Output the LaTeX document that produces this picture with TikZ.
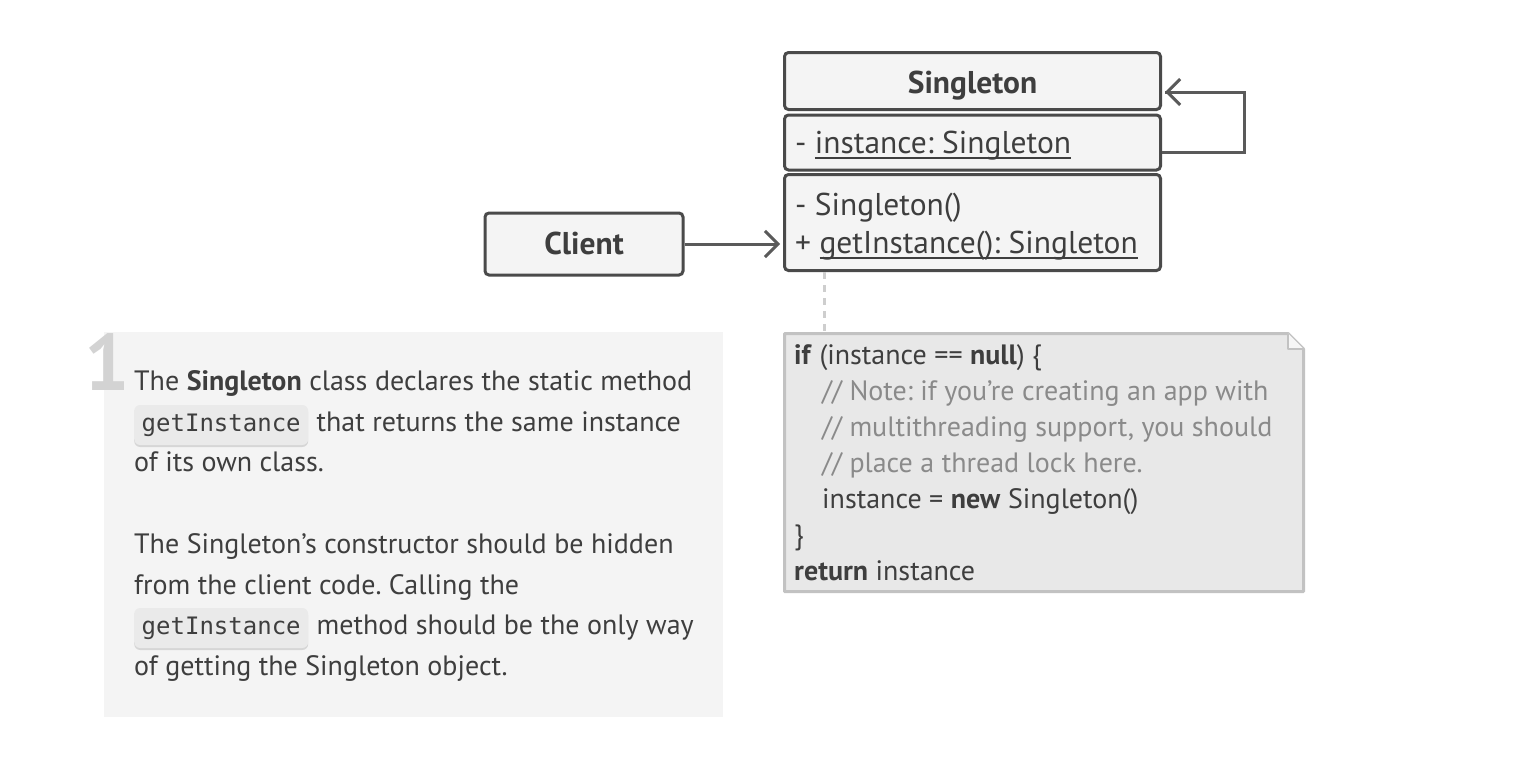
\documentclass[tikz,border=0pt]{standalone}
\usepackage{fontspec}
\setmainfont{PT Sans}
\setmonofont{DejaVu Sans Mono}
\usetikzlibrary{arrows.meta,shadows}
\definecolor{ink}{HTML}{3E3E3E}
\definecolor{umlline}{HTML}{4A4A4A}
\definecolor{umlfill}{HTML}{F4F4F4}
\definecolor{arrline}{HTML}{5A5A5A}
\definecolor{notefill}{HTML}{E8E8E8}
\definecolor{noteline}{HTML}{C2C2C2}
\definecolor{comment}{HTML}{8A8A8A}
\definecolor{panel}{HTML}{F4F4F4}
\definecolor{codefill}{HTML}{EAEAEA}
\definecolor{bignum}{HTML}{D3D3D3}
\newcommand\myul[1]{\setbox0\hbox{#1}\rlap{\rule[-5.5pt]{\wd0}{1.8pt}}\box0}
\frenchspacing
\begin{document}
\begin{tikzpicture}[x=1pt,y=-1pt,
  umlbox/.style={draw=umlline, line width=3pt, fill=umlfill, rounded corners=4pt, inner sep=0pt},
  umltext/.style={anchor=base west, inner sep=0pt, text=ink, font=\fontsize{31.5}{36}\selectfont},
  umlbold/.style={anchor=base, inner sep=0pt, text=ink, font=\fontsize{31.5}{36}\bfseries\selectfont},
  arr/.style={draw=arrline, line width=3pt, -{Straight Barb[length=13pt,width=26pt,line width=3pt]}},
  txt/.style={anchor=base west, inner sep=0pt, text=ink, font=\fontsize{28}{32}\selectfont},
  notetxt/.style={anchor=base west, inner sep=0pt, text=ink, font=\fontsize{28}{32}\selectfont},
  cmt/.style={notetxt, text=comment},
  codebox/.style={anchor=base west, fill=codefill, rounded corners=6pt, inner xsep=0pt, inner ysep=3pt,
     minimum width=174pt, text height=23pt, text depth=11pt, text=ink,
     font=\fontsize{24}{28}\ttfamily,
     drop shadow={shadow xshift=0pt, shadow yshift=-2pt, fill=black!16, opacity=1}},
]
\useasboundingbox[fill=white] (0,0) rectangle (1516,758);

% left explanation panel
\fill[panel] (104,332) rectangle (723,717);
\node[anchor=base west, inner sep=0pt, text=bignum, font=\fontsize{80}{80}\bfseries\selectfont] (num) at (84,390) {1};

\node[txt] (l1) at (134,390) {The \textbf{Singleton} class declares the static method};
\node[codebox] (g1) at (134,431) {getInstance};
\node[txt] (l2) at ([xshift=8pt]g1.base east) {that returns the same instance};
\node[txt] (l3) at (134,471) {of its own class.};
\node[txt] (l5) at (134,553) {The Singleton’s constructor should be hidden};
\node[txt] (l6) at (134,594) {from the client code. Calling the};
\node[codebox] (g2) at (134,634) {getInstance};
\node[txt] (l7) at ([xshift=8pt]g2.base east) {method should be the only way};
\node[txt] (l8) at (134,675) {of getting the Singleton object.};

% Singleton class
\node[umlbox, minimum width=376pt, minimum height=57pt] (sh) at (972.5,81) {};
\node[umlbox, minimum width=376pt, minimum height=55pt] (sa) at (972.5,142.5) {};
\node[umlbox, minimum width=376pt, minimum height=96pt] (sm) at (972.5,222.5) {};
\node[umlbold] (shT) at (972.5,93) {Singleton};
\node[umltext] (saT) at (795,153) {- \myul{instance: Singleton}};
\node[umltext] (smT1) at (795,215) {- Singleton()};
\node[umltext] (smT2) at (795,253) {+ \myul{getInstance(): Singleton}};

% Client
\node[umlbox, minimum width=198pt, minimum height=62pt] (cl) at (584,244) {};
\node[umlbold] (clT) at (584,254) {Client};

% connectors
\coordinate (loopa) at ([yshift=-10pt]sa.east);
\coordinate (loopb) at ([yshift=-11pt]sh.east);
\coordinate (loopc) at (1244,0);
\draw[arr, -] (loopa) -- (loopa -| loopc) |- ([xshift=3pt]loopb);
\draw[arr] (loopc |- loopb) -- ([xshift=3pt]loopb);
\draw[arr] (cl.east) -- ([xshift=-3pt]cl.east -| sm.west);

% note
\coordinate (nt) at (824,332);
\draw[draw=noteline!80, line width=3pt, dash pattern=on 7pt off 6pt] (sm.south -| nt) -- (nt);
\filldraw[fill=notefill, draw=noteline, line width=3pt, line join=round] (784.5,333.5) -- (1288,333.5) -- (1303.5,349) -- (1303.5,591.5) -- (784.5,591.5) -- cycle;
\filldraw[fill=white!60!notefill, draw=noteline, line width=2pt, line join=round] (1288,333.5) -- (1288,349) -- (1303.5,349);

\node[notetxt] (n1) at (794,364) {\textbf{if} (instance == \textbf{null}) \{};
\node[cmt] (n2) at (822,400) {// Note: if you’re creating an app with};
\node[cmt] (n3) at (822,436) {// multithreading support, you should};
\node[cmt] (n4) at (822,472) {// place a thread lock here.};
\node[notetxt] (n5) at (822,508) {instance = \textbf{new} Singleton()};
\node[notetxt] (n6) at (794,544) {\}};
\node[notetxt] (n7) at (794,580) {\textbf{return} instance};
\end{tikzpicture}
\end{document}
